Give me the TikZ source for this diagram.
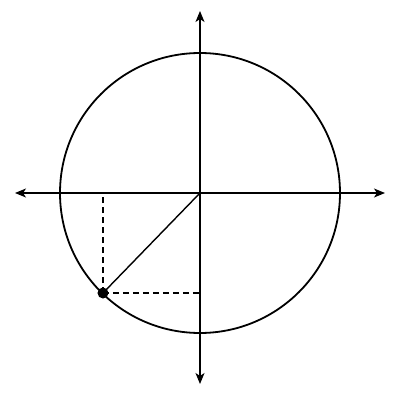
\documentclass[tikz,border=0pt]{standalone}
\usetikzlibrary{arrows.meta}
\begin{document}
\begin{tikzpicture}[x=1pt, y=1pt]
		% STYLES
		\tikzstyle{axe} = [line width=1.6pt, -{Stealth[length=11pt, width=9pt, inset=3pt]}, draw=black]
		\tikzstyle{cercle} = [line width=1.8pt, draw=black]
		\tikzstyle{rayon} = [line width=1.4pt, draw=black]
		\tikzstyle{proj} = [line width=1.1pt, draw=black, dash pattern=on 6pt off 4pt]

		% CADRE
		\useasboundingbox (-200, -207) rectangle (200, 193);

		% POINTS
		\coordinate (O) at (0, 0);
		\coordinate (P) at (-97, -100);
		\coordinate (Px) at (P |- O);
		\coordinate (Py) at (O |- P);
		\coordinate (xg) at (-185, 0);
		\coordinate (xd) at (185, 0);
		\coordinate (yb) at (0, -191);
		\coordinate (yh) at (0, 182);

		% CERCLE
		\draw[cercle] (O) circle (140);

		% AXES
		\draw[axe] (O) -- (xg); % X
		\draw[axe] (O) -- (xd);
		\draw[axe] (O) -- (yb); % Y
		\draw[axe] (O) -- (yh);

		% PROJECTIONS
		\draw[proj] (P) -- (Px);
		\draw[proj] (P) -- (Py);

		% RAYON
		\draw[rayon] (O) -- (P);
		\fill (P) circle (5.5);
	\end{tikzpicture}
\end{document}
